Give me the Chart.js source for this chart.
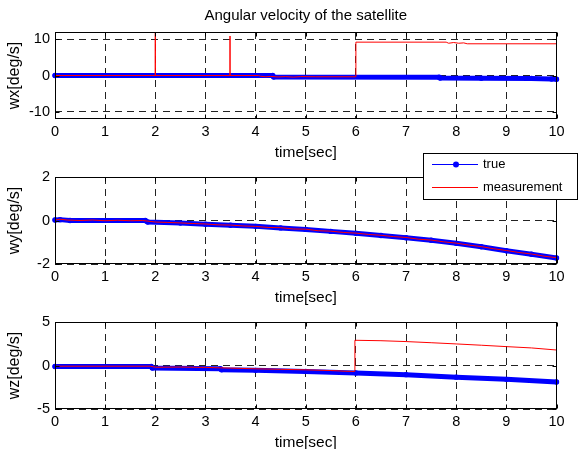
<!DOCTYPE html>
<html>
<head>
<meta charset="utf-8">
<script src="https://cdn.jsdelivr.net/npm/chart.js@4.4.1/dist/chart.umd.min.js"></script>
<style>
  html, body { margin: 0; padding: 0; background: #fff; }
  #wrap { position: relative; width: 578px; height: 449px; overflow: hidden; }
  #wrap canvas { position: absolute; left: 0; top: 0; }
</style>
</head>
<body>
<div id="wrap">
  <canvas id="wxChart" width="578" height="449"></canvas>
  <canvas id="wyChart" width="578" height="449"></canvas>
  <canvas id="wzChart" width="578" height="449"></canvas>
</div>
<script>
// tick labels
const timeTicks = [0, 1, 2, 3, 4, 5, 6, 7, 8, 9, 10];
const wxTicks = [-10, 0, 10];
const wyTicks = [-2, 0, 2];
const wzTicks = [-5, 0, 5];

// wx
const wxTrueT = [0, 4.34, 4.36, 7.66, 7.68, 8.5, 9.5, 9.9, 10];
const wxTrue = [0, 0, -0.4, -0.45, -0.7, -0.75, -0.8, -0.95, -1.05];
const wxMeasT = [0, 2.0, 2.0, 2.0, 3.49, 3.49, 3.49, 4.06, 4.1, 4.2, 4.3, 4.45, 4.6, 4.75, 4.9, 5.2, 5.99, 6.0, 7.8, 7.85, 7.95, 8.05, 8.15, 8.22, 10];
const wxMeas = [0, 0, 14, 0, 0, 10.9, 0, 0, -0.2, -0.35, -0.25, -0.4, -0.3, -0.45, -0.3, -0.35, -0.35, 9.2, 9.2, 8.9, 9.1, 8.9, 9.0, 8.75, 8.75];

// wy
const wyTrueT = [0, 0.1, 0.3, 1.8, 1.85, 2.5, 3, 3.5, 4, 4.5, 5, 5.5, 6, 6.5, 7, 7.5, 8, 8.5, 9, 9.5, 10];
const wyTrue = [0.02, 0.04, 0, 0, -0.07, -0.12, -0.17, -0.22, -0.27, -0.34, -0.41, -0.5, -0.59, -0.69, -0.79, -0.91, -1.05, -1.21, -1.39, -1.55, -1.72];
const wyMeasT = [0, 0.1, 0.25, 0.5, 0.75, 1, 1.25, 1.5, 1.75, 2, 2.25, 2.5, 2.75, 3, 3.25, 3.5, 3.75, 4, 4.25, 4.5, 4.75, 5, 5.25, 5.5, 5.75, 6, 6.25, 6.5, 6.75, 7, 7.25, 7.5, 7.75, 8, 8.25, 8.5, 8.75, 9, 9.25, 9.5, 9.75, 10];
const wyMeas = [0.02, 0.06, 0.02, 0.0, 0.02, -0.01, 0.01, -0.01, 0.0, -0.07, -0.09, -0.11, -0.14, -0.16, -0.2, -0.21, -0.25, -0.27, -0.32, -0.33, -0.39, -0.4, -0.47, -0.49, -0.55, -0.58, -0.64, -0.68, -0.74, -0.78, -0.86, -0.9, -0.98, -1.04, -1.13, -1.2, -1.3, -1.38, -1.47, -1.54, -1.64, -1.71];

// wz
const wzTrueT = [0, 1.92, 1.94, 3.3, 3.32, 4, 5, 6, 7, 8, 9, 10];
const wzTrue = [-0.12, -0.12, -0.3, -0.38, -0.48, -0.56, -0.68, -0.85, -1.05, -1.34, -1.59, -1.9];
const wzMeasT = [0, 1.9, 2.0, 2.5, 3.0, 3.3, 3.5, 4.0, 4.5, 5.0, 5.5, 5.8, 5.97, 5.98, 6.5, 7.0, 7.5, 8.0, 8.5, 9.0, 9.5, 10];
const wzMeas = [-0.08, -0.08, -0.2, -0.18, -0.22, -0.27, -0.3, -0.38, -0.44, -0.5, -0.58, -0.66, -0.68, 2.9, 2.85, 2.75, 2.62, 2.48, 2.33, 2.17, 2.02, 1.78];

Chart.defaults.font.family = '"Liberation Sans", Arial, sans-serif';
Chart.defaults.color = '#000';

const tickFont = { size: 14.5 };
const xTitleFont = { size: 15.5 };
const yTitleFont = { size: 16 };

function toPoints(t, v) {
    return t.map((x, i) => ({ x: x, y: v[i] }));
}

// black box round the axes with inward tick marks, like matlab
const matlabBox = {
    id: 'matlabBox',
    afterDraw(chart) {
        const { ctx, chartArea: a, scales } = chart;
        const l = Math.round(a.left) + 0.5, r = Math.round(a.right) - 0.5;
        const t = Math.round(a.top) + 0.5, b = Math.round(a.bottom) - 0.5;
        ctx.save();
        ctx.strokeStyle = '#000';
        ctx.lineWidth = 1;
        ctx.beginPath();
        scales.x.ticks.forEach(tk => {
            const px = Math.round(scales.x.getPixelForValue(tk.value)) + 0.5;
            ctx.moveTo(px, b); ctx.lineTo(px, b - 4);
            ctx.moveTo(px, t); ctx.lineTo(px, t + 4);
        });
        scales.y.ticks.forEach(tk => {
            const py = Math.round(scales.y.getPixelForValue(tk.value)) + 0.5;
            ctx.moveTo(l, py); ctx.lineTo(l + 4, py);
            ctx.moveTo(r, py); ctx.lineTo(r - 4, py);
        });
        ctx.stroke();
        ctx.strokeRect(l, t, r - l, b - t);
        ctx.restore();
    }
};

const floatingLegend = {
    id: 'floatingLegend',
    afterDraw(chart, args, o) {
        if (!o.show) return;
        const ctx = chart.ctx;
        ctx.save();
        ctx.fillStyle = '#fff';
        ctx.fillRect(o.left, o.top, o.width, o.height);
        ctx.strokeStyle = '#000';
        ctx.lineWidth = 1;
        ctx.strokeRect(o.left + 0.5, o.top + 0.5, o.width - 1, o.height - 1);
        chart.data.datasets.forEach((d, i) => {
            const y = o.top + o.firstRow + i * o.rowGap + 0.5;
            ctx.strokeStyle = d.borderColor;
            ctx.beginPath();
            ctx.moveTo(o.left + 9, y);
            ctx.lineTo(o.left + 55, y);
            ctx.stroke();
            if (d.pointRadius > 0) {
                ctx.fillStyle = d.borderColor;
                ctx.beginPath();
                ctx.arc(o.left + 33, y, 3, 0, Math.PI * 2);
                ctx.fill();
            }
            ctx.fillStyle = '#000';
            ctx.font = '13px "Liberation Sans", Arial, sans-serif';
            ctx.textBaseline = 'middle';
            ctx.fillText(d.label, o.left + 60, y);
        });
        ctx.restore();
    }
};

function makeConfig(c) {
    return {
        type: 'line',
        data: {
            datasets: [
                {
                    label: 'true',
                    data: toPoints(c.trueT, c.trueV),
                    borderColor: '#0000ff',
                    backgroundColor: '#0000ff',
                    borderWidth: 5,
                    pointRadius: 2.7,
                    pointBorderWidth: 0,
                    borderCapStyle: 'round',
                    borderJoinStyle: 'round',
                    clip: 4,
                    order: 2
                },
                {
                    label: 'measurement',
                    data: toPoints(c.measT, c.measV),
                    borderColor: '#ff0000',
                    borderWidth: 1,
                    pointRadius: 0,
                    clip: 0,
                    order: 1
                }
            ]
        },
        options: {
            responsive: false,
            animation: false,
            events: [],
            layout: { padding: { top: c.top, bottom: c.bottom, left: 0, right: 21.5 } },
            plugins: {
                legend: { display: false },
                tooltip: { enabled: false },
                title: {
                    display: !!c.title,
                    text: c.title || '',
                    fullSize: false,
                    color: '#000',
                    font: { size: 15, weight: 'normal' },
                    padding: { top: 7, bottom: 7 }
                },
                floatingLegend: c.legend || { show: false }
            },
            scales: {
                x: {
                    type: 'linear',
                    min: 0,
                    max: 10,
                    afterBuildTicks: s => { s.ticks = timeTicks.map(v => ({ value: v })); },
                    afterFit: s => { s.height = 40; },
                    grid: { color: '#222', lineWidth: 1, drawTicks: false },
                    border: { display: false, dash: [7, 5] },
                    ticks: { color: '#000', font: tickFont, padding: 4, maxRotation: 0, autoSkip: false },
                    title: { display: true, text: 'time[sec]', color: '#000', font: xTitleFont, padding: { top: 0, bottom: -3 } }
                },
                y: {
                    type: 'linear',
                    min: c.yMin,
                    max: c.yMax,
                    afterBuildTicks: s => { s.ticks = c.yTicks.map(v => ({ value: v })); },
                    afterFit: s => { s.width = 55; },
                    grid: { color: '#222', lineWidth: 1, drawTicks: false },
                    border: { display: false, dash: [7, 5] },
                    ticks: { color: '#000', font: tickFont, padding: 5 },
                    title: { display: true, text: c.yLabel, color: '#000', font: yTitleFont, padding: { top: 5, bottom: 0 } }
                }
            }
        },
        plugins: [matlabBox, floatingLegend]
    };
}

new Chart(document.getElementById('wxChart'), makeConfig({
    trueT: wxTrueT, trueV: wxTrue, measT: wxMeasT, measV: wxMeas,
    yMin: -12, yMax: 12, yTicks: wxTicks, yLabel: 'wx[deg/s]',
    title: 'Angular velocity of the satellite',
    top: 0, bottom: 290
}));

new Chart(document.getElementById('wyChart'), makeConfig({
    trueT: wyTrueT, trueV: wyTrue, measT: wyMeasT, measV: wyMeas,
    yMin: -2, yMax: 2, yTicks: wyTicks, yLabel: 'wy[deg/s]',
    top: 177, bottom: 145,
    legend: { show: true, left: 423, top: 153, width: 155, height: 47, firstRow: 11, rowGap: 23 }
}));

new Chart(document.getElementById('wzChart'), makeConfig({
    trueT: wzTrueT, trueV: wzTrue, measT: wzMeasT, measV: wzMeas,
    yMin: -5, yMax: 5, yTicks: wzTicks, yLabel: 'wz[deg/s]',
    top: 322, bottom: 0
}));
</script>
</body>
</html>
